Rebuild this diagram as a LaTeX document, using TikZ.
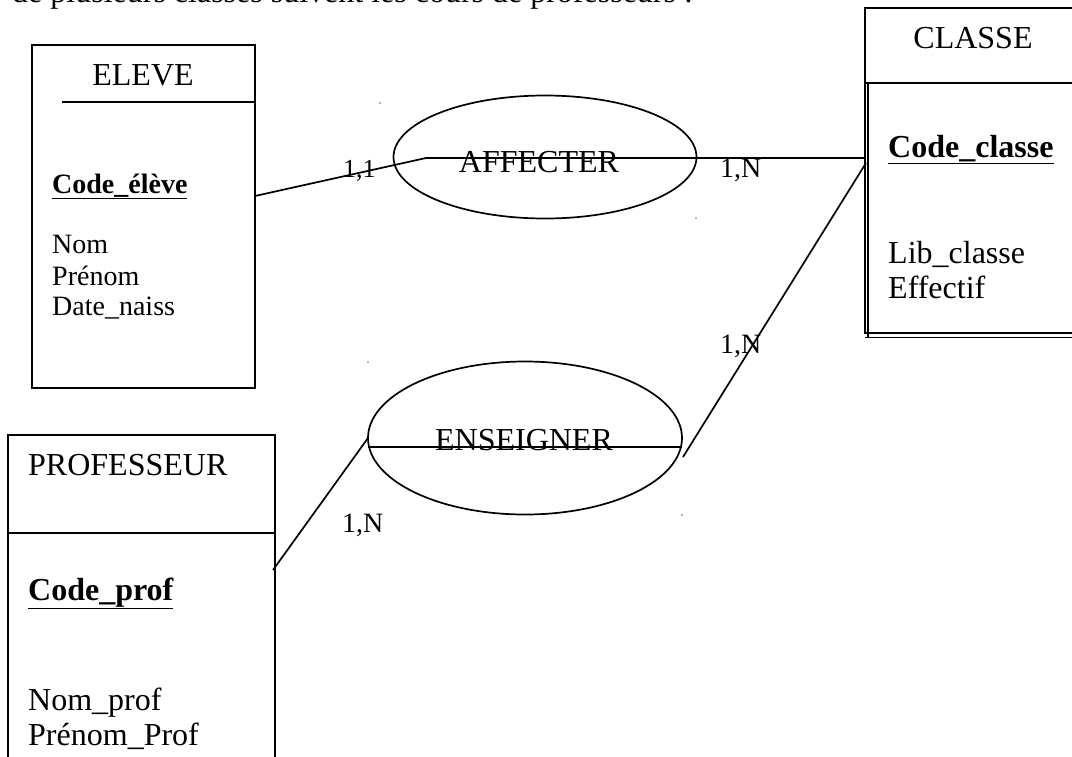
\documentclass[tikz,border=0pt]{standalone}
\usepackage{fontspec}
\setmainfont{Liberation Serif}
\usetikzlibrary{shapes.geometric}
\begin{document}
\begin{tikzpicture}[x=1pt,y=-1pt,
  box/.style={draw, line width=1.8pt, anchor=north west, inner sep=0pt, outer sep=0pt},
  rel/.style={draw, ellipse, line width=1.7pt, inner sep=0pt, outer sep=0pt},
  link/.style={line width=1.7pt},
  big/.style={font=\fontsize{32}{36}\selectfont, inner sep=0pt},
  small/.style={font=\fontsize{28}{32}\selectfont, inner sep=0pt},
  card/.style={font=\fontsize{28}{32}\selectfont, inner sep=0pt, anchor=base west},
  keyattr/.style={font=\fontsize{32}{36}\selectfont\bfseries, inner sep=0pt, anchor=base west},
  speck/.style={circle, fill=black!60, inner sep=0pt, minimum size=1.6pt}]
\useasboundingbox (0,0) rectangle (1072,756);
\clip (0,0) rectangle (1072,756);

% sentence above the schema, mostly cut off by the page edge
\node[big, anchor=base west] (intro) at (12,2) {de plusieurs classes suivent les cours de professeurs :};

% ---- entity ELEVE
\node[box, minimum width=223pt, minimum height=343pt] (eleve) at (32,45) {};
\coordinate (esep) at (62,102);
\draw[link] (esep) -- (esep -| eleve.east);
\node[big, anchor=base] (eleveT) at (143,85) {ELEVE};
\node[keyattr, font=\fontsize{28}{32}\selectfont\bfseries] (eleveK) at (52,193) {\underline{Code\_élève}};
\node[small, anchor=base west] (eleveA1) at (52,253) {Nom};
\node[small, anchor=base west] (eleveA2) at (52,285) {Prénom};
\node[small, anchor=base west] (eleveA3) at (52,315) {Date\_naiss};

% ---- entity CLASSE
\node[box, line width=1.6pt, minimum width=220pt, minimum height=75pt] (classeH) at (865,8) {};
\node[box, line width=1.6pt, minimum width=220pt, minimum height=250pt] (classeB) at (865,83) {};
\draw[line width=2pt] ([xshift=2.5pt]classeB.north west) -- ([xshift=2.5pt,yshift=-4.5pt]classeB.south west);
\draw[line width=1.6pt] ([yshift=-4.5pt]classeB.south west) -- ([yshift=-4.5pt]classeB.south east);
\node[big, anchor=base] (classeT) at (973,48) {CLASSE};
\node[keyattr] (classeK) at (888,157) {\underline{Code\_classe}};
\node[big, anchor=base west] (classeA1) at (888,263) {Lib\_classe};
\node[big, anchor=base west] (classeA2) at (888,298) {Effectif};

% ---- entity PROFESSEUR
\node[box, minimum width=267pt, minimum height=98pt] (profH) at (8,435) {};
\node[box, minimum width=267pt, minimum height=300pt] (profB) at (8,533) {};
\node[big, anchor=base west] (profT) at (28,475) {PROFESSEUR};
\node[keyattr] (profK) at (28,600) {\underline{Code\_prof}};
\node[big, anchor=base west] (profA1) at (28,710) {Nom\_prof};
\node[big, anchor=base west] (profA2) at (28,745) {Prénom\_Prof};

% ---- association AFFECTER
\node[rel, minimum width=303pt, minimum height=123pt] (affecter) at (545,157) {};
\node[big, anchor=base] (affecterT) at (539,172) {AFFECTER};
\coordinate (a1) at (255,196);
\coordinate (a2) at (426,158);
\draw[link] (a1) -- (a2) -- (a2 -| classeB.west);
\node[card, font=\fontsize{26}{30}\selectfont] (c11) at (343,177) {1,1};
\node[card] (c1n) at (720,177) {1,N};

% ---- association ENSEIGNER
\node[rel, minimum width=314pt, minimum height=153pt] (enseigner) at (525,438) {};
\draw[link] ([yshift=-9pt]enseigner.west) -- ([yshift=-9pt]enseigner.east);
\node[big, anchor=base] (enseignerT) at (524,450) {ENSEIGNER};
\coordinate (p1) at (273,570);
\draw[link] (p1) -- (enseigner.west);
\coordinate (s1) at (683,457);
\coordinate (s2) at (866,163);
\draw[link] (s1) -- (s2);
\node[card] (c2n) at (720,353) {1,N};
\node[card] (c3n) at (342,532) {1,N};

% small specks left around the ellipses
\node[speck] (d1) at (380,103) {};
\node[speck] (d2) at (696,218) {};
\node[speck] (d3) at (368,362) {};
\node[speck] (d4) at (682,515) {};
\end{tikzpicture}
\end{document}
